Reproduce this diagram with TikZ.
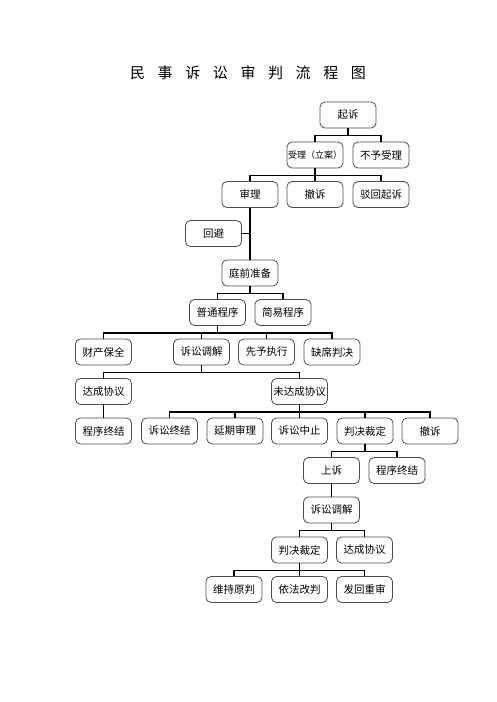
\documentclass[tikz,border=0pt]{standalone}
\usepackage{fontspec}
\setmainfont{Noto Sans CJK SC}

\begin{document}
\begin{tikzpicture}[x=1pt,y=-1pt,
    box/.style={draw=black!70, line width=0.8pt, rounded corners=5pt,
        minimum width=56pt, minimum height=26pt, inner sep=1pt,
        font=\fontsize{10.5}{12}\selectfont},
    link/.style={line width=1.5pt}]
    \useasboundingbox (0,0) rectangle (496,702);

    % title
    \node (title) at (248,73) {\fontsize{15}{18}\selectfont\spaceskip=12.6pt\relax 民 事 诉 讼 审 判 流 程 图};

    % filing
    \node[box] (qs) at (348,115) {起诉};
    \node[box,font=\fontsize{9}{11}\selectfont] (sl) at (315,155) {受理（立案）};
    \node[box] (byl) at (381,155) {不予受理};
    \node[box] (shl) at (250,194.5) {审理};
    \node[box] (cs1) at (315,194.5) {撤诉};
    \node[box] (bh) at (381,194.5) {驳回起诉};
    \node[box] (hb) at (213.5,233.5) {回避};
    \node[box] (tq) at (250,273) {庭前准备};
    \node[box] (pt) at (217.5,312.5) {普通程序};
    \node[box] (jy) at (283,312.5) {简易程序};

    % ordinary procedure
    \node[box] (cb) at (103.5,352) {财产保全};
    \node[box] (tj1) at (201.5,352) {诉讼调解};
    \node[box] (xy) at (266.5,352) {先予执行};
    \node[box] (qx) at (332,352) {缺席判决};
    \node[box] (dc1) at (103.5,391.5) {达成协议};
    \node[box] (wdc) at (299.5,391.5) {未达成协议};
    \node[box] (zj1) at (103.5,431) {程序终结};
    \node[box] (sz) at (169.5,431) {诉讼终结};
    \node[box] (yq) at (235,431) {延期审理};
    \node[box] (zz) at (299.5,431) {诉讼中止};
    \node[box] (pj1) at (365,431) {判决裁定};
    \node[box] (cs2) at (430,431) {撤诉};

    % appeal
    \node[box] (ss) at (331.5,470.5) {上诉};
    \node[box] (zj2) at (397,470.5) {程序终结};
    \node[box] (tj2) at (331.5,510) {诉讼调解};
    \node[box] (pj2) at (299.5,550) {判决裁定};
    \node[box] (dc2) at (364.5,550) {达成协议};
    \node[box] (wc) at (234,589.5) {维持原判};
    \node[box] (yf) at (299.5,589.5) {依法改判};
    \node[box] (fh) at (364.5,589.5) {发回重审};

    % connectors
    \foreach \c in {sl,byl} \draw[link] (qs.south) -- ++(0,7) -| (\c.north);
    \foreach \c in {shl,cs1,bh} \draw[link] (sl.south) -- ++(0,7) -| (\c.north);
    \draw[link] (shl.south) -- (tq.north);
    \draw[link] (hb.east) -- (hb.east -| shl.south);
    \foreach \c in {pt,jy} \draw[link] (tq.south) -- ++(0,7) -| (\c.north);
    \foreach \c in {cb,tj1,xy,qx} \draw[link] (pt.south) -- ++(0,7) -| (\c.north);
    \foreach \c in {dc1,wdc} \draw[link] (tj1.south) -- ++(0,7) -| (\c.north);
    \draw[link] (dc1.south) -- (zj1.north);
    \foreach \c in {sz,yq,zz,pj1,cs2} \draw[link] (wdc.south) -- ++(0,7) -| (\c.north);
    \foreach \c in {ss,zj2} \draw[link] (pj1.south) -- ++(0,7) -| (\c.north);
    \draw[link] (ss.south) -- (tj2.north);
    \foreach \c in {pj2,dc2} \draw[link] (tj2.south) -- ++(0,7) -| (\c.north);
    \foreach \c in {wc,yf,fh} \draw[link] (pj2.south) -- ++(0,7) -| (\c.north);
\end{tikzpicture}
\end{document}
